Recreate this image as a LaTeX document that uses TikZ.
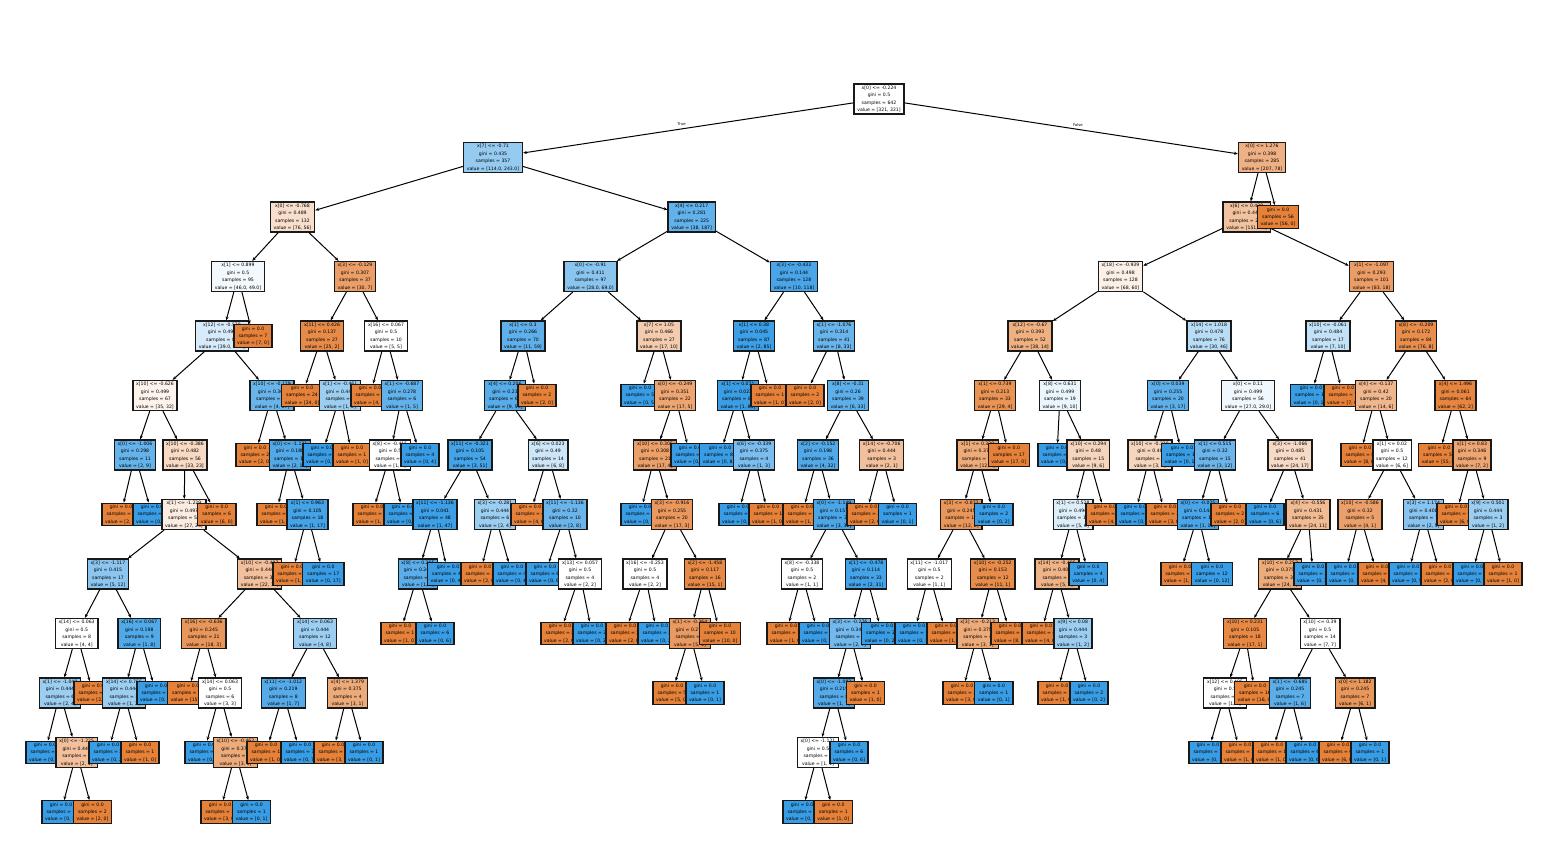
\documentclass[tikz,border=0pt]{standalone}
\usepackage{fontspec}
\setmainfont{DejaVu Sans}
\usetikzlibrary{arrows.meta}
\definecolor{O}{RGB}{229,129,57}
\definecolor{B}{RGB}{57,157,229}
\newcommand\IN[9]{\node[nd,fill=#5] (#1) at (#3,#4) {#6\\gini = #7\\samples = #8\\value = [#9]}; \draw[edge] (#2) -- (#1);}
\newcommand\LF[7]{\node[nd,fill=#5] (#1) at (#3,#4) {gini = 0.0\\samples = #6\\value = [#7]}; \draw[edge] (#2) -- (#1);}
\tikzset{
  nd/.style={draw=black!90, line width=1.35pt, rectangle, align=center, inner xsep=3.3pt, inner ysep=1.8pt, font=\fontsize{4.6}{7.4}\selectfont},
  edge/.style={-{Stealth[length=3.8pt,width=3pt]}, line width=1pt, black},
  lbl/.style={font=\fontsize{3.8}{4}\selectfont, inner sep=0.5pt}
}
\begin{document}
\begin{tikzpicture}[x=1pt,y=-1pt]
\useasboundingbox (0,0) rectangle (1548,853);
\node[nd,fill=white] (r) at (879,99) {x[0] <= -0.224\\gini = 0.5\\samples = 642\\value = [321, 321]};
\node[nd,fill=B!53] (a) at (493,157.5) {x[7] <= -0.71\\gini = 0.435\\samples = 357\\value = [114.0, 243.0]};
\draw[edge] (r) -- node[lbl,pos=0.52,above=2pt]{True} (a);
\IN{a1}{a}{292.5}{217}{O!26}{x[0] <= -0.768}{0.489}{132}{76, 56}
\IN{a11}{a1}{238}{276.5}{B!6}{x[1] <= 0.899}{0.5}{95}{46.0, 49.0}
\IN{a111}{a11}{222}{336}{B!20}{x[12] <= -0.579}{0.494}{88}{39.0, 49.0}
\IN{a1111}{a111}{155}{395.5}{O!9}{x[10] <= -0.626}{0.499}{67}{35, 32}
\IN{c1}{a1111}{135}{455}{B!78}{x[0] <= -1.006}{0.298}{11}{2, 9}
\LF{c11}{c1}{121}{514.5}{O}{2}{2, 0}
\LF{c12}{c1}{152}{514.5}{B}{9}{0, 9}
\IN{c2}{a1111}{185}{455}{O!30}{x[10] <= -0.386}{0.482}{56}{33, 23}
\IN{c21}{c2}{184}{514.5}{O!15}{x[1] <= -1.229}{0.497}{50}{27, 23}
\IN{c211}{c21}{108}{574}{B!58}{x[3] <= -1.117}{0.415}{17}{5, 12}
\IN{c2111}{c211}{76.7}{633.5}{white}{x[14] <= 0.063}{0.5}{8}{4, 4}
\IN{c21111}{c2111}{60}{693}{B!50}{x[1] <= -1.048}{0.444}{6}{2, 4}
\LF{d1}{c21111}{45}{752.5}{B}{3}{0, 3}
\IN{d2}{c21111}{76.7}{752.5}{O!50}{x[0] <= -1.225}{0.444}{3}{2, 1}
\LF{d21}{d2}{61}{812}{B}{1}{0, 1}
\LF{d22}{d2}{92.5}{812}{O}{2}{2, 0}
\LF{d3}{c2111}{93}{693}{O}{2}{2, 0}
\IN{c2112}{c211}{139.3}{633.5}{B!88}{x[16] <= 0.067}{0.198}{9}{1, 8}
\IN{d4}{c2112}{124}{693}{B!50}{x[14] <= 0.755}{0.444}{3}{1, 2}
\LF{d41}{d4}{108}{752.5}{B}{2}{0, 2}
\LF{d42}{d4}{140}{752.5}{O}{1}{1, 0}
\LF{d5}{c2112}{156}{693}{B}{6}{0, 6}
\IN{c212}{c21}{259.7}{574}{O!50}{x[10] <= -0.497}{0.444}{33}{22, 11}
\IN{e1}{c212}{203.8}{633.5}{O!83}{x[16] <= -0.636}{0.245}{21}{18, 3}
\LF{e11}{e1}{188}{693}{O}{15}{15, 0}
\IN{e12}{e1}{220}{693}{white}{x[14] <= 0.063}{0.5}{6}{3, 3}
\LF{e121}{e12}{204}{752.5}{B}{2}{0, 2}
\IN{e122}{e12}{235.5}{752.5}{O!67}{x[10] <= -0.462}{0.375}{4}{3, 1}
\LF{e1221}{e122}{220}{812}{O}{3}{3, 0}
\LF{e1222}{e122}{251.5}{812}{B}{1}{0, 1}
\IN{e2}{c212}{315}{633.5}{B!50}{x[14] <= 0.063}{0.444}{12}{4, 8}
\IN{e21}{e2}{283.3}{693}{B!86}{x[11] <= -1.012}{0.219}{8}{1, 7}
\LF{e211}{e21}{266}{752.5}{O}{1}{1, 0}
\LF{e212}{e21}{300}{752.5}{B}{7}{0, 7}
\IN{e22}{e2}{347.5}{693}{O!67}{x[4] <= 1.379}{0.375}{4}{3, 1}
\LF{e221}{e22}{333}{752.5}{O}{3}{3, 0}
\LF{e222}{e22}{364}{752.5}{B}{1}{0, 1}
\LF{c22}{c2}{216.7}{514.5}{O}{6}{6, 0}
\IN{a1112}{a111}{272}{395.5}{B!76}{x[10] <= -0.129}{0.308}{21}{4, 17}
\LF{f1}{a1112}{255}{455}{O}{2}{2, 0}
\IN{f2}{a1112}{290}{455}{B!88}{x[0] <= -1.131}{0.188}{19}{2, 17}
\LF{f21}{f2}{276}{514.5}{O}{1}{1, 0}
\IN{f22}{f2}{307.5}{514.5}{B!94}{x[1] <= 0.963}{0.105}{18}{1, 17}
\LF{f221}{f22}{292}{574}{O}{1}{1, 0}
\LF{f222}{f22}{323.3}{574}{B}{17}{0, 17}
\LF{a112}{a11}{253}{336}{O}{7}{7, 0}
\IN{a12}{a1}{355}{276.5}{O!77}{x[3] <= -0.129}{0.307}{37}{30, 7}
\IN{g1}{a12}{322}{336}{O!92}{x[11] <= 0.426}{0.137}{27}{25, 2}
\LF{g11}{g1}{302}{395.5}{O}{24}{24, 0}
\IN{g12}{g1}{340}{395.5}{B!50}{x[1] <= -0.461}{0.444}{3}{1, 2}
\LF{g121}{g12}{322}{455}{B}{2}{0, 2}
\LF{g122}{g12}{352}{455}{O}{1}{1, 0}
\IN{g2}{a12}{386}{336}{white}{x[16] <= 0.067}{0.5}{10}{5, 5}
\LF{g21}{g2}{370}{395.5}{O}{4}{4, 0}
\IN{g22}{g2}{402}{395.5}{B!80}{x[1] <= -0.687}{0.278}{6}{1, 5}
\IN{g221}{g22}{390}{455}{white}{x[8] <= -0.415}{0.5}{2}{1, 1}
\LF{g2211}{g221}{372}{514.5}{O}{1}{1, 0}
\LF{g2212}{g221}{403}{514.5}{B}{1}{0, 1}
\LF{g222}{g22}{420}{455}{B}{4}{0, 4}
\IN{a2}{a}{691.7}{217}{B!80}{x[4] <= 0.217}{0.281}{225}{38, 187}
\IN{h}{a2}{590.5}{276.5}{B!59}{x[0] <= -0.91}{0.411}{97}{28.0, 69.0}
\IN{h1}{h}{523}{336}{B!81}{x[1] <= 0.3}{0.266}{70}{11, 59}
\IN{h11}{h1}{505}{395.5}{B!85}{x[4] <= 0.206}{0.23}{68}{9, 59}
\IN{h111}{h11}{470}{455}{B!94}{x[11] <= -0.321}{0.105}{54}{3, 51}
\IN{h1111}{h111}{435}{514.5}{B!98}{x[11] <= -1.136}{0.041}{48}{1, 47}
\IN{h11111}{h1111}{418}{574}{B!83}{x[8] <= 0.205}{0.245}{7}{1, 6}
\LF{i1}{h11111}{400}{633.5}{O}{1}{1, 0}
\LF{i2}{h11111}{435}{633.5}{B}{6}{0, 6}
\LF{h11112}{h1111}{448}{574}{B}{41}{0, 41}
\IN{h1112}{h111}{495}{514.5}{B!50}{x[3] <= -0.281}{0.444}{6}{2, 4}
\LF{j1}{h1112}{480}{574}{O}{2}{2, 0}
\LF{j2}{h1112}{512}{574}{B}{4}{0, 4}
\IN{h112}{h11}{548}{455}{B!25}{x[6] <= 0.023}{0.49}{14}{6, 8}
\LF{k1}{h112}{530}{514.5}{O}{4}{4, 0}
\IN{k2}{h112}{565}{514.5}{B!75}{x[11] <= -1.136}{0.32}{10}{2, 8}
\LF{k21}{k2}{545}{574}{B}{6}{0, 6}
\IN{k22}{k2}{580}{574}{white}{x[13] <= 0.057}{0.5}{4}{2, 2}
\LF{k221}{k22}{560}{633.5}{O}{2}{2, 0}
\LF{k222}{k22}{592}{633.5}{B}{2}{0, 2}
\LF{h12}{h1}{537}{395.5}{O}{2}{2, 0}
\IN{h2}{h}{659}{336}{O!41}{x[7] <= 1.05}{0.466}{27}{17, 10}
\LF{h21}{h2}{640}{395.5}{B}{5}{0, 5}
\IN{h22}{h2}{675}{395.5}{O!71}{x[0] <= -0.249}{0.351}{22}{17, 5}
\IN{h221}{h22}{655}{455}{O!76}{x[10] <= 0.305}{0.308}{21}{17, 4}
\LF{l1}{h221}{640}{514.5}{B}{1}{0, 1}
\IN{l2}{h221}{672}{514.5}{O!82}{x[3] <= -0.916}{0.255}{20}{17, 3}
\IN{l21}{l2}{645}{574}{white}{x[16] <= -0.253}{0.5}{4}{2, 2}
\LF{l211}{l21}{625}{633.5}{O}{2}{2, 0}
\LF{l212}{l21}{657}{633.5}{B}{2}{0, 2}
\IN{l22}{l2}{705}{574}{O!93}{x[2] <= -1.458}{0.117}{16}{15, 1}
\IN{l221}{l22}{690}{633.5}{O!80}{x[1] <= -0.364}{0.278}{6}{5, 1}
\LF{l2211}{l221}{672}{693}{O}{5}{5, 0}
\LF{l2212}{l221}{705}{693}{B}{1}{0, 1}
\LF{l222}{l22}{720}{633.5}{O}{10}{10, 0}
\LF{h222}{h22}{690}{455}{B}{1}{0, 1}
\IN{m}{a2}{794}{276.5}{B!92}{x[3] <= -0.433}{0.144}{128}{10, 118}
\IN{m1}{m}{754}{336}{B!98}{x[1] <= 0.38}{0.045}{87}{2, 85}
\IN{m11}{m1}{738}{395.5}{B!99}{x[1] <= 0.071}{0.023}{86}{1, 85}
\LF{m111}{m11}{720}{455}{B}{82}{0, 82}
\IN{m112}{m11}{754}{455}{B!67}{x[6] <= -0.339}{0.375}{4}{1, 3}
\LF{m1121}{m112}{738}{514.5}{B}{3}{0, 3}
\LF{m1122}{m112}{768}{514.5}{O}{1}{1, 0}
\LF{m12}{m1}{770}{395.5}{O}{1}{1, 0}
\IN{m2}{m}{834}{336}{B!76}{x[1] <= -1.076}{0.314}{41}{8, 33}
\LF{m21}{m2}{805}{395.5}{O}{2}{2, 0}
\IN{m22}{m2}{848}{395.5}{B!82}{x[8] <= -0.31}{0.26}{39}{6, 33}
\IN{m221}{m22}{818}{455}{B!88}{x[2] <= -0.152}{0.198}{36}{4, 32}
\LF{n1}{m221}{802}{514.5}{O}{1}{1, 0}
\IN{n2}{m221}{834}{514.5}{B!91}{x[0] <= -1.149}{0.157}{35}{3, 32}
\IN{n21}{n2}{802}{574}{white}{x[8] <= -0.338}{0.5}{2}{1, 1}
\LF{n211}{n21}{786}{633.5}{O}{1}{1, 0}
\LF{n212}{n21}{818}{633.5}{B}{1}{0, 1}
\IN{n22}{n2}{866}{574}{B!94}{x[1] <= -0.478}{0.114}{33}{2, 31}
\IN{n221}{n22}{850}{633.5}{B!71}{x[3] <= -0.276}{0.346}{9}{2, 7}
\IN{n2211}{n221}{834}{693}{B!86}{x[0] <= -1.083}{0.219}{8}{1, 7}
\IN{n22111}{n2211}{818}{752.5}{white}{x[0] <= -1.121}{0.5}{2}{1, 1}
\LF{o1}{n22111}{802}{812}{B}{1}{0, 1}
\LF{o2}{n22111}{833.3}{812}{O}{1}{1, 0}
\LF{n22112}{n2211}{849}{752.5}{B}{6}{0, 6}
\LF{n2212}{n221}{865.5}{693}{O}{1}{1, 0}
\LF{n222}{n22}{882}{633.5}{B}{24}{0, 24}
\IN{m222}{m22}{881.7}{455}{O!50}{x[14] <= -0.706}{0.444}{3}{2, 1}
\LF{p1}{m222}{866}{514.5}{O}{2}{2, 0}
\LF{p2}{m222}{897.5}{514.5}{B}{1}{0, 1}
\node[nd,fill=O!62] (b) at (1262,157.5) {x[0] <= 1.276\\gini = 0.398\\samples = 285\\value = [207, 78]};
\draw[edge] (r) -- node[lbl,pos=0.52,above=2pt]{False} (b);
\IN{b1}{b}{1246.7}{217}{O!48}{x[6] <= 0.429}{0.449}{229}{151, 78}
\IN{q}{b1}{1120.5}{276.5}{O!12}{x[18] <= -0.939}{0.498}{128}{68, 60}
\IN{q1}{q}{1030}{336}{O!63}{x[12] <= -0.67}{0.393}{52}{38, 14}
\IN{q11}{q1}{995}{395.5}{O!86}{x[1] <= 0.739}{0.213}{33}{29, 4}
\IN{q111}{q11}{977.7}{455}{O!67}{x[1] <= 0.329}{0.375}{16}{12, 4}
\IN{q1111}{q111}{961.3}{514.5}{O!83}{x[3] <= -0.872}{0.245}{14}{12, 2}
\IN{s1}{q1111}{929.3}{574}{white}{x[11] <= -1.017}{0.5}{2}{1, 1}
\LF{s11}{s1}{914}{633.5}{B}{1}{0, 1}
\LF{s12}{s1}{946}{633.5}{O}{1}{1, 0}
\IN{s2}{q1111}{992.8}{574}{O!91}{x[10] <= -0.252}{0.153}{12}{11, 1}
\IN{s21}{s2}{977.7}{633.5}{O!67}{x[3] <= -0.213}{0.375}{4}{3, 1}
\LF{s211}{s21}{962}{693}{O}{3}{3, 0}
\LF{s212}{s21}{993.8}{693}{B}{1}{0, 1}
\LF{s22}{s2}{1010}{633.5}{O}{8}{8, 0}
\LF{q1112}{q111}{993.8}{514.5}{B}{2}{0, 2}
\LF{q112}{q11}{1008.8}{455}{O}{17}{17, 0}
\IN{q12}{q1}{1060}{395.5}{B!10}{x[8] <= 0.631}{0.499}{19}{9, 10}
\LF{q121}{q12}{1057}{455}{B}{4}{0, 4}
\IN{q122}{q12}{1088.3}{455}{O!33}{x[10] <= 0.294}{0.48}{15}{9, 6}
\IN{t1}{q122}{1073}{514.5}{B!17}{x[1] <= 0.528}{0.496}{11}{5, 6}
\IN{t11}{t1}{1057}{574}{O!60}{x[14] <= -0.405}{0.408}{7}{5, 2}
\LF{t111}{t11}{1041}{633.5}{O}{4}{4, 0}
\IN{t112}{t11}{1073}{633.5}{B!50}{x[9] <= 0.08}{0.444}{3}{1, 2}
\LF{t1121}{t112}{1057}{693}{O}{1}{1, 0}
\LF{t1122}{t112}{1089}{693}{B}{2}{0, 2}
\LF{t12}{t1}{1088.3}{574}{B}{4}{0, 4}
\LF{t2}{q122}{1105}{514.5}{O}{4}{4, 0}
\IN{q2}{q}{1209}{336}{B!35}{x[14] <= 1.018}{0.478}{76}{30, 46}
\IN{u1}{q2}{1168}{395.5}{B!82}{x[0] <= 0.039}{0.255}{20}{3, 17}
\IN{u11}{u1}{1150}{455}{O!33}{x[10] <= -0.338}{0.48}{5}{3, 2}
\LF{u111}{u11}{1135}{514.5}{B}{2}{0, 2}
\LF{u112}{u11}{1165}{514.5}{O}{3}{3, 0}
\LF{u12}{u1}{1182}{455}{B}{15}{0, 15}
\IN{u2}{q2}{1248}{395.5}{B!7}{x[0] <= 0.11}{0.499}{56}{27.0, 29.0}
\IN{v1}{u2}{1215}{455}{B!75}{x[1] <= 0.515}{0.32}{15}{3, 12}
\IN{v11}{v1}{1198}{514.5}{B!92}{x[0] <= -0.025}{0.142}{13}{1, 12}
\LF{v111}{v11}{1180}{574}{O}{1}{1, 0}
\LF{v112}{v11}{1212}{574}{B}{12}{0, 12}
\LF{v12}{v1}{1230}{514.5}{O}{2}{2, 0}
\IN{v2}{u2}{1290}{455}{O!29}{x[3] <= -1.066}{0.485}{41}{24, 17}
\LF{v21}{v2}{1265}{514.5}{B}{6}{0, 6}
\IN{v22}{v2}{1308}{514.5}{O!54}{x[4] <= -0.556}{0.431}{35}{24, 11}
\IN{w}{v22}{1280}{574}{O!67}{x[10] <= 0.253}{0.375}{32}{24, 8}
\IN{w1}{w}{1245}{633.5}{O!94}{x[10] <= 0.231}{0.105}{18}{17, 1}
\IN{w11}{w1}{1225}{693}{white}{x[12] <= 0.405}{0.5}{2}{1, 1}
\LF{w111}{w11}{1208}{752.5}{B}{1}{0, 1}
\LF{w112}{w11}{1240}{752.5}{O}{1}{1, 0}
\LF{w12}{w1}{1255}{693}{O}{16}{16, 0}
\IN{w2}{w}{1320}{633.5}{white}{x[10] <= 0.39}{0.5}{14}{7, 7}
\IN{w21}{w2}{1290}{693}{B!83}{x[1] <= -0.685}{0.245}{7}{1, 6}
\LF{w211}{w21}{1272}{752.5}{O}{1}{1, 0}
\LF{w212}{w21}{1305}{752.5}{B}{6}{0, 6}
\IN{w22}{w2}{1355}{693}{O!83}{x[0] <= 1.182}{0.245}{7}{6, 1}
\LF{w221}{w22}{1338}{752.5}{O}{6}{6, 0}
\LF{w222}{w22}{1370}{752.5}{B}{1}{0, 1}
\LF{v222}{v22}{1313}{574}{B}{3}{0, 3}
\IN{xx}{b1}{1371.5}{276.5}{O!78}{x[1] <= -1.097}{0.293}{101}{83, 18}
\IN{x1}{xx}{1328}{336}{B!30}{x[10] <= -0.061}{0.484}{17}{7, 10}
\LF{x11}{x1}{1311}{395.5}{B}{10}{0, 10}
\LF{x12}{x1}{1343}{395.5}{O}{7}{7, 0}
\IN{x2}{xx}{1416}{336}{O!90}{x[8] <= -0.209}{0.172}{84}{76, 8}
\IN{x21}{x2}{1376}{395.5}{O!57}{x[4] <= -0.137}{0.42}{20}{14, 6}
\LF{x211}{x21}{1360}{455}{O}{8}{8, 0}
\IN{x212}{x21}{1392}{455}{white}{x[1] <= 0.02}{0.5}{12}{6, 6}
\IN{y1}{x212}{1360}{514.5}{O!75}{x[10] <= -0.586}{0.32}{5}{4, 1}
\LF{y11}{y1}{1345}{574}{B}{1}{0, 1}
\LF{y12}{y1}{1377}{574}{O}{4}{4, 0}
\IN{y2}{x212}{1423.5}{514.5}{B!60}{x[3] <= 1.174}{0.408}{7}{2, 5}
\LF{y21}{y2}{1408}{574}{B}{5}{0, 5}
\LF{y22}{y2}{1440}{574}{O}{2}{2, 0}
\IN{x22}{x2}{1455.5}{395.5}{O!97}{x[4] <= 1.496}{0.061}{64}{62, 2}
\LF{x221}{x22}{1439}{455}{O}{55}{55, 0}
\IN{x222}{x22}{1472}{455}{O!71}{x[1] <= 0.83}{0.346}{9}{7, 2}
\LF{z1}{x222}{1456}{514.5}{O}{6}{6, 0}
\IN{z2}{x222}{1488}{514.5}{B!50}{x[9] <= 0.501}{0.444}{3}{1, 2}
\LF{z21}{z2}{1472}{574}{B}{2}{0, 2}
\LF{z22}{z2}{1503}{574}{O}{1}{1, 0}
\LF{b2}{b}{1278}{217}{O}{56}{56, 0}
\end{tikzpicture}
\end{document}
